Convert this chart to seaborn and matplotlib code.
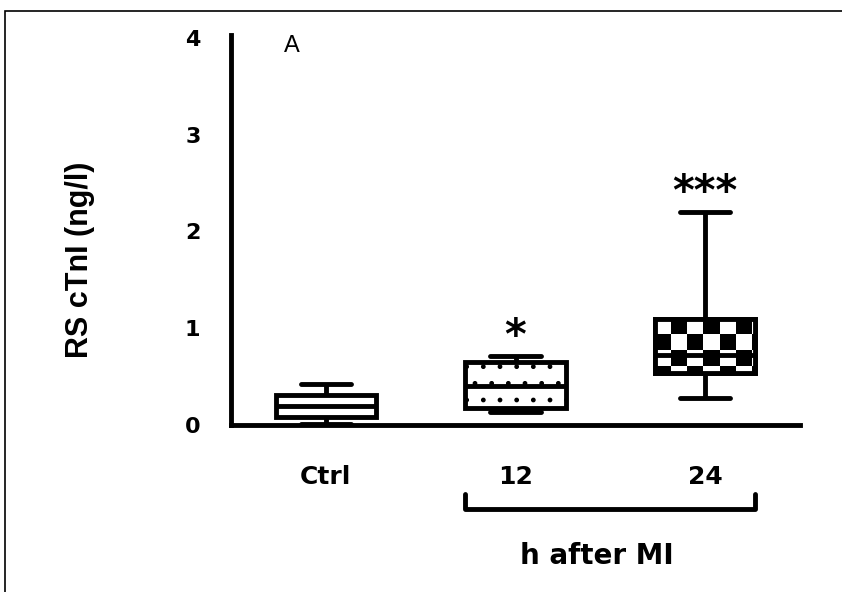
import numpy as np
import pandas as pd
import matplotlib.pyplot as plt
import seaborn as sns
from matplotlib.patches import PathPatch, Rectangle

sns.set_style("white")
plt.rcParams['font.family'] = ['DejaVu Sans']
plt.rcParams['text.color'] = 'black'
plt.rcParams['axes.labelcolor'] = 'black'
plt.rcParams['xtick.color'] = 'black'
plt.rcParams['ytick.color'] = 'black'

# 数据: 每组的五数概括 (min, q1, median, q3, max)
groups = ['Ctrl', '12', '24']
ctrl_vals = [0.01, 0.08, 0.20, 0.31, 0.42]
h12_vals = [0.13, 0.18, 0.40, 0.65, 0.71]
h24_vals = [0.28, 0.54, 0.72, 1.10, 2.20]
stars = ['', '*', '***']
y_ticks = [0, 1, 2, 3, 4]

all_vals = [ctrl_vals, h12_vals, h24_vals]
df = pd.DataFrame({'group': np.repeat(groups, 5),
                   'value': ctrl_vals + h12_vals + h24_vals})

fig = plt.figure(figsize=(8.42, 5.92), dpi=100)
ax = fig.add_axes([231 / 842, 1 - 425 / 592, 569 / 842, 390 / 592])

box_w = 0.53
sns.boxplot(data=df, x='group', y='value', order=groups, whis=(0, 100),
            width=box_w, color='white', linecolor='black', linewidth=3.5,
            fliersize=0, ax=ax)

boxes = [p for p in ax.patches if isinstance(p, PathPatch)]

# 12h: 点状填充
boxes[1].set_hatch('.')

# 24h: 棋盘格填充 (图像裁剪到箱体)
b24 = boxes[2]
ext = b24.get_path().get_extents()
sq_x, sq_y = 0.085, 0.165
nx = int(np.ceil(ext.width / sq_x))
ny = int(np.ceil(ext.height / sq_y))
checker = 1 - np.indices((ny, nx)).sum(axis=0) % 2
im = ax.imshow(checker, cmap='gray', origin='upper', aspect='auto',
               interpolation='nearest', zorder=b24.get_zorder() + 0.05,
               extent=(ext.x0, ext.x0 + nx * sq_x, ext.y1 - ny * sq_y, ext.y1))
im.set_clip_path(b24)
ax.add_patch(PathPatch(b24.get_path(), fill=False, edgecolor='black', lw=3.5,
                       transform=b24.get_transform(), zorder=4))

# 显著性星号
for i, s in enumerate(stars):
    if s:
        ax.text(i, max(all_vals[i]) + 0.20, s, ha='center', va='center',
                fontsize=30, fontweight='bold')

# 组括号 "h after MI"
xt = ax.get_xaxis_transform()
ax.plot([1 - box_w / 2, 1 - box_w / 2, 2 + box_w / 2, 2 + box_w / 2],
        [-0.176, -0.2145, -0.2145, -0.176], color='black', lw=3.5,
        transform=xt, clip_on=False, solid_capstyle='round')
ax.text(0.643, -0.336, 'h after MI', transform=ax.transAxes, ha='center',
        va='center', fontsize=20, fontweight='bold')

for ln in ax.lines:
    ln.set_zorder(5)

ax.set_xlim(-0.5, 2.5)
ax.set_ylim(0, 4.03)
ax.set_yticks(y_ticks)
ax.set_xlabel('')
ax.set_ylabel('RS cTnI (ng/l)', fontsize=22, fontweight='bold', va='center',
              family=['Liberation Sans', 'DejaVu Sans'])
ax.yaxis.set_label_coords(-0.265, 0.424)
ax.tick_params(axis='both', length=0)
ax.tick_params(axis='y', pad=22, labelsize=16)
ax.tick_params(axis='x', pad=29, labelsize=18)
for lab in ax.get_xticklabels() + ax.get_yticklabels():
    lab.set_fontweight('bold')

sns.despine(ax=ax)
for side in ['left', 'bottom']:
    ax.spines[side].set_linewidth(3.5)
    ax.spines[side].set_color('black')

ax.text(0.107, 0.972, 'A', transform=ax.transAxes, ha='center', va='center',
        fontsize=17, family=['Liberation Sans', 'DejaVu Sans'])

# 外框
fig.patches.append(Rectangle((5 / 842, -0.1), 1.2, 1.1 - 11 / 592, fill=False,
                             edgecolor='black', lw=1.2,
                             transform=fig.transFigure, clip_on=False))

fig.savefig('out.png', dpi=100)
